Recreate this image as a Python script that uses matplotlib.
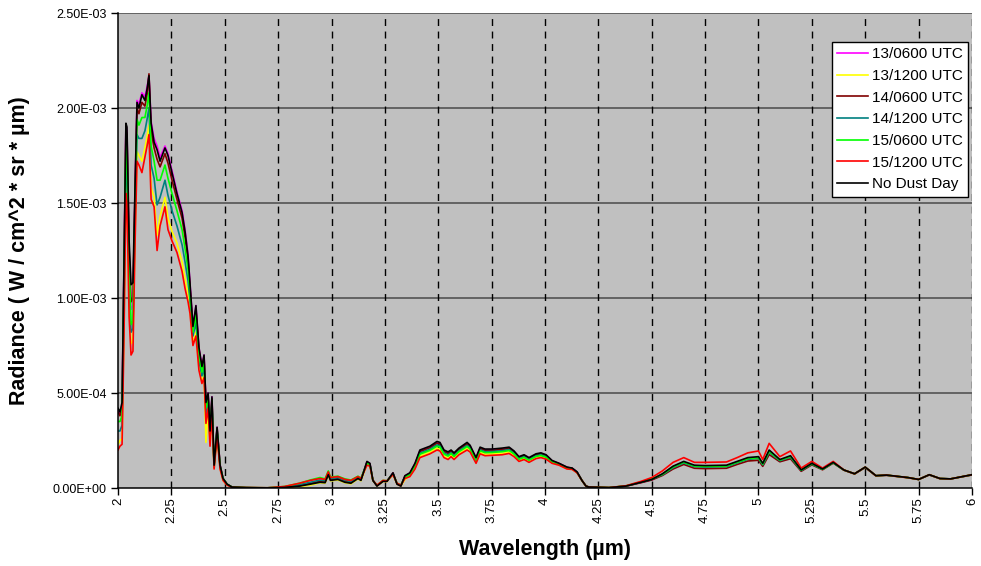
import numpy as np
import matplotlib
matplotlib.use("Agg")
import matplotlib.pyplot as plt
from matplotlib.ticker import FuncFormatter

plt.rcParams['font.family'] = ['Liberation Sans', 'DejaVu Sans']

# Wavelength (µm)
wavelength = [
    2.000, 2.009, 2.019, 2.028, 2.037, 2.042, 2.052, 2.061, 2.070, 2.080,
    2.089, 2.098, 2.112, 2.126, 2.136, 2.145, 2.155, 2.169, 2.183, 2.197,
    2.220, 2.234, 2.253, 2.276, 2.300, 2.314, 2.328, 2.337, 2.351, 2.365,
    2.379, 2.393, 2.403, 2.412, 2.422, 2.431, 2.440, 2.450, 2.464, 2.478,
    2.492, 2.511, 2.534, 2.600, 2.700, 2.780, 2.850, 2.900, 2.946, 2.970,
    2.985, 2.995, 3.030, 3.063, 3.091, 3.124, 3.138, 3.166, 3.180, 3.194,
    3.213, 3.241, 3.260, 3.288, 3.307, 3.325, 3.344, 3.367, 3.391, 3.414,
    3.438, 3.461, 3.494, 3.508, 3.527, 3.546, 3.560, 3.574, 3.597, 3.635,
    3.649, 3.677, 3.696, 3.719, 3.752, 3.799, 3.832, 3.855, 3.878, 3.902,
    3.925, 3.958, 3.981, 4.005, 4.033, 4.066, 4.103, 4.127, 4.150, 4.173,
    4.192, 4.206, 4.300, 4.380, 4.450, 4.500, 4.550, 4.600, 4.650, 4.700,
    4.750, 4.850, 4.900, 4.950, 5.000, 5.020, 5.050, 5.100, 5.150, 5.200,
    5.250, 5.300, 5.350, 5.400, 5.450, 5.500, 5.550, 5.600, 5.700, 5.750,
    5.800, 5.850, 5.900, 6.000]

# Radiance values in units of 1E-03 W / cm^2 * sr * µm
d13_0600 = [
    .41, .39, .44, 1.18, 1.91, 1.88, 1.22, .94, .96, 1.58,
    2.04, 2.02, 2.08, 2.06, 2.11, 2.17, 1.93, 1.84, 1.80, 1.74,
    1.80, 1.76, 1.67, 1.56, 1.46, 1.36, 1.23, 1.08, .85, .96,
    .74, .64, .70, .45, .50, .30, .48, .12, .32, .12,
    .05, .02, .005, .002, .001, .004, .012, .022, .033, .030,
    .072, .042, .047, .032, .027, .052, .042, .138, .128, .040,
    .010, .035, .035, .079, .020, .010, .063, .078, .127, .196,
    .206, .216, .240, .235, .196, .186, .196, .181, .206, .236,
    .221, .157, .211, .201, .202, .206, .212, .192, .162, .172,
    .157, .177, .182, .173, .143, .129, .109, .104, .085, .040,
    .010, .005, .002, .010, .029, .043, .068, .104, .128, .108,
    .106, .108, .128, .147, .151, .118, .182, .141, .158, .090,
    .124, .097, .132, .094, .074, .109, .064, .067, .054, .045,
    .069, .049, .048, .069]

d13_1200 = [
    .23, .25, .26, .86, 1.61, 1.56, .96, .76, .77, 1.35,
    1.77, 1.75, 1.72, 1.79, 1.85, 1.91, 1.58, 1.53, 1.33, 1.43,
    1.53, 1.42, 1.35, 1.29, 1.19, 1.10, 1.02, .94, .76, .82,
    .64, .56, .60, .24, .43, .23, .41, .105, .28, .105,
    .04, .016, .005, .002, .001, .003, .008, .015, .028, .026,
    .068, .038, .042, .028, .022, .048, .038, .125, .118, .040,
    .010, .034, .034, .072, .020, .010, .045, .064, .106, .168,
    .178, .188, .209, .204, .168, .158, .172, .157, .182, .208,
    .197, .136, .187, .177, .179, .182, .189, .171, .145, .155,
    .140, .160, .165, .157, .133, .122, .102, .099, .081, .040,
    .010, .005, .002, .011, .031, .046, .069, .106, .130, .110,
    .108, .110, .130, .149, .153, .120, .185, .142, .160, .091,
    .125, .097, .132, .094, .074, .109, .064, .067, .054, .045,
    .069, .049, .048, .069]

d14_0600 = [
    .40, .38, .43, 1.16, 1.88, 1.86, 1.25, .98, 1.00, 1.57,
    2.00, 1.97, 2.03, 2.01, 2.07, 2.18, 1.88, 1.79, 1.73, 1.69,
    1.76, 1.71, 1.62, 1.52, 1.42, 1.32, 1.20, 1.06, .84, .94,
    .73, .63, .69, .44, .49, .29, .47, .12, .315, .12,
    .05, .02, .005, .002, .001, .004, .012, .024, .035, .032,
    .075, .045, .050, .035, .030, .054, .044, .135, .126, .040,
    .012, .036, .036, .078, .022, .012, .062, .076, .124, .192,
    .202, .212, .236, .231, .192, .182, .193, .178, .203, .232,
    .218, .154, .208, .198, .198, .203, .208, .189, .160, .170,
    .155, .175, .180, .170, .142, .128, .108, .104, .084, .040,
    .010, .005, .002, .010, .028, .042, .066, .100, .124, .104,
    .102, .104, .124, .142, .146, .114, .176, .138, .154, .088,
    .122, .096, .131, .094, .074, .108, .064, .067, .054, .045,
    .069, .049, .048, .069]

d14_1200 = [
    .30, .30, .33, .98, 1.72, 1.68, 1.08, .82, .84, 1.44,
    1.86, 1.84, 1.84, 1.88, 1.94, 2.00, 1.70, 1.63, 1.49, 1.53,
    1.62, 1.54, 1.46, 1.38, 1.28, 1.19, 1.09, .99, .80, .87,
    .67, .59, .63, .38, .46, .26, .44, .11, .30, .11,
    .045, .018, .005, .002, .001, .006, .018, .030, .042, .038,
    .080, .050, .054, .040, .034, .056, .046, .132, .123, .040,
    .012, .038, .037, .076, .023, .013, .059, .072, .118, .184,
    .194, .204, .227, .222, .184, .174, .186, .171, .196, .224,
    .211, .148, .201, .191, .192, .196, .202, .183, .155, .165,
    .150, .170, .175, .166, .139, .126, .106, .102, .083, .040,
    .010, .005, .002, .011, .031, .046, .070, .107, .132, .112,
    .110, .112, .132, .151, .155, .122, .188, .144, .162, .092,
    .126, .098, .133, .094, .075, .109, .065, .067, .055, .045,
    .069, .050, .048, .069]

d15_0600 = [
    .35, .35, .38, 1.08, 1.81, 1.78, 1.18, .86, .88, 1.51,
    1.94, 1.91, 1.95, 1.95, 2.01, 2.08, 1.80, 1.72, 1.62, 1.62,
    1.70, 1.63, 1.55, 1.46, 1.36, 1.26, 1.15, 1.03, .82, .91,
    .70, .61, .66, .42, .48, .28, .46, .115, .31, .115,
    .05, .02, .005, .002, .001, .008, .025, .042, .055, .048,
    .090, .058, .062, .048, .042, .062, .052, .130, .122, .040,
    .014, .040, .038, .074, .025, .015, .057, .069, .114, .178,
    .188, .198, .220, .215, .178, .168, .181, .166, .191, .218,
    .206, .144, .196, .186, .187, .191, .197, .179, .151, .161,
    .146, .166, .171, .162, .137, .124, .105, .101, .082, .040,
    .010, .005, .002, .011, .032, .047, .072, .111, .136, .116,
    .114, .116, .136, .155, .160, .126, .194, .147, .166, .094,
    .128, .099, .134, .095, .075, .110, .065, .068, .055, .045,
    .070, .050, .048, .070]

d15_1200 = [
    .20, .22, .23, .80, 1.55, 1.50, .90, .70, .72, 1.30,
    1.72, 1.70, 1.66, 1.74, 1.80, 1.86, 1.52, 1.48, 1.25, 1.38,
    1.48, 1.36, 1.30, 1.24, 1.14, 1.05, .98, .92, .75, .80,
    .62, .55, .58, .34, .42, .22, .40, .10, .27, .10,
    .04, .015, .004, .002, .001, .008, .025, .040, .050, .045,
    .085, .055, .060, .045, .040, .060, .050, .120, .115, .040,
    .015, .040, .038, .070, .025, .015, .050, .060, .100, .160,
    .170, .180, .200, .195, .160, .150, .165, .150, .175, .200,
    .190, .130, .180, .170, .172, .175, .182, .165, .140, .150,
    .135, .155, .160, .152, .130, .120, .100, .098, .080, .040,
    .010, .005, .002, .012, .035, .055, .090, .135, .160, .135,
    .135, .137, .160, .185, .195, .150, .235, .165, .195, .105,
    .140, .105, .140, .095, .075, .110, .065, .068, .055, .045,
    .070, .050, .048, .070]

no_dust = [
    .42, .40, .45, 1.20, 1.92, 1.90, 1.30, 1.07, 1.08, 1.60,
    2.03, 2.00, 2.07, 2.04, 2.10, 2.17, 1.92, 1.82, 1.78, 1.72,
    1.79, 1.75, 1.66, 1.55, 1.45, 1.35, 1.22, 1.08, .85, .96,
    .74, .64, .70, .45, .50, .30, .48, .12, .32, .12,
    .05, .02, .005, .002, .000, .003, .010, .020, .030, .028,
    .070, .040, .045, .030, .025, .050, .040, .140, .130, .040,
    .010, .035, .035, .080, .020, .010, .065, .080, .130, .200,
    .210, .220, .245, .240, .200, .190, .200, .185, .210, .240,
    .225, .160, .215, .205, .205, .210, .215, .195, .165, .175,
    .160, .180, .185, .175, .145, .130, .110, .105, .085, .040,
    .010, .005, .002, .010, .030, .045, .075, .115, .140, .120,
    .118, .120, .140, .160, .165, .130, .200, .150, .170, .095,
    .130, .100, .135, .095, .075, .110, .065, .068, .055, .045,
    .070, .050, .048, .070]

series_names = ["13/0600 UTC", "13/1200 UTC", "14/0600 UTC", "14/1200 UTC",
                "15/0600 UTC", "15/1200 UTC", "No Dust Day"]
series_data = [d13_0600, d13_1200, d14_0600, d14_1200, d15_0600, d15_1200, no_dust]
series_colors = ["#FF00FF", "#FFFF00", "#800000", "#008080", "#00FF00", "#FF0000", "#000000"]

x_ticks = [2, 2.25, 2.5, 2.75, 3, 3.25, 3.5, 3.75, 4, 4.25, 4.5, 4.75, 5, 5.25, 5.5, 5.75, 6]
x_ticklabels = ["2", "2.25", "2.5", "2.75", "3", "3.25", "3.5", "3.75", "4", "4.25",
                "4.5", "4.75", "5", "5.25", "5.5", "5.75", "6"]
y_ticks = [0, 0.0005, 0.001, 0.0015, 0.002, 0.0025]

fig = plt.figure(figsize=(9.81, 5.66), dpi=100)
ax = fig.add_axes([0.1203, 0.1378, 0.8705, 0.8392])
ax.set_facecolor("#C0C0C0")

wl = np.array(wavelength)
for name, vals, col in zip(series_names, series_data, series_colors):
    ax.plot(wl, np.array(vals) * 1e-3, color=col, lw=1.2, label=name)

ax.set_xlim(2, 6)
ax.set_ylim(0, 0.0025)
ax.set_xticks(x_ticks)
ax.set_xticklabels(x_ticklabels, rotation=90, fontsize=9.5)
ax.set_yticks(y_ticks)
ax.yaxis.set_major_formatter(FuncFormatter(lambda v, p: f"{v:.2E}"))
ax.tick_params(axis='y', labelsize=9, direction='out', length=5, width=1, pad=3)
ax.tick_params(axis='x', direction='out', length=5, width=1, pad=2)

# grid lines like the spreadsheet chart
for y in y_ticks[1:]:
    ax.axhline(y, color="#4a4a4a", lw=1.1, zorder=1)
for x in x_ticks[1:]:
    ax.axvline(x, color="black", lw=1.0, ls=(0, (5, 4)), zorder=1)

for s in ["top", "right"]:
    ax.spines[s].set_visible(False)
ax.spines["left"].set_linewidth(1.1)
ax.spines["bottom"].set_linewidth(1.1)

ax.set_xlabel("Wavelength (µm)", fontsize=15.5, fontweight="bold")
ax.set_ylabel("Radiance ( W / cm^2 * sr * µm)", fontsize=15.5, fontweight="bold")
ax.xaxis.set_label_coords(0.5, -0.108)
ax.yaxis.set_label_coords(-0.103, 0.5)

leg = ax.legend(loc="upper right", bbox_to_anchor=(0.9868, 0.9258), bbox_transform=fig.transFigure,
                borderaxespad=0, fontsize=11, frameon=True, fancybox=False,
                handlelength=2.0, handletextpad=0.25, labelspacing=0.5, borderpad=0.35)
leg.get_frame().set_edgecolor("black")
leg.get_frame().set_linewidth(1.0)
leg.get_frame().set_facecolor("white")
leg.get_frame().set_alpha(1)

fig.savefig("out.png", dpi=100)
